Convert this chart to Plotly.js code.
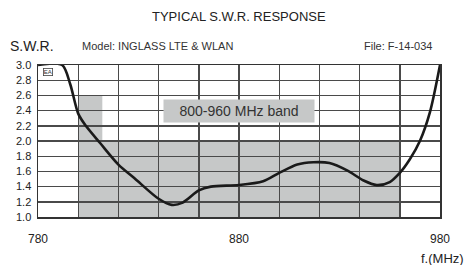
<!DOCTYPE html>
<html>
<head>
<meta charset="utf-8">
<script src="https://cdn.plot.ly/plotly-3.0.1.min.js"></script>
<style>html,body{margin:0;padding:0;background:#fff;}#chart{width:468px;height:265px;}</style>
</head>
<body>
<div id="chart"></div>
<script>
// Data
const freq = [780, 792, 796, 800, 803.5, 811, 820, 828, 840, 846.5, 852, 860, 866, 880, 892, 900, 909, 917, 925, 934, 942, 948.5, 955, 960, 965, 970, 975, 980];
const swr  = [3.0, 3.0, 2.75, 2.36, 2.21, 1.97, 1.69, 1.51, 1.24, 1.16, 1.19, 1.35, 1.40, 1.42, 1.47, 1.58, 1.69, 1.72, 1.71, 1.61, 1.48, 1.42, 1.46, 1.58, 1.76, 2.0, 2.38, 3.0];
const xGrid = [780, 800, 820, 840, 860, 880, 900, 920, 940, 960, 980];
const xLabels = ['780', '', '', '', '', '880', '', '', '', '', '980'];
const yTicks = [1.0, 1.2, 1.4, 1.6, 1.8, 2.0, 2.2, 2.4, 2.6, 2.8, 3.0];
const bandStart = 800, bandEnd = 960, bandLimit = 2.0;
const notchEnd = 812, notchLimit = 2.6;

const font = 'Liberation Sans, Arial, sans-serif';
const trace = {
  x: freq, y: swr, type: 'scatter', mode: 'lines',
  line: {color: '#1a1a1a', width: 2.6, shape: 'spline', smoothing: 0.8},
  cliponaxis: false, hoverinfo: 'skip'
};
const layout = {
  width: 468, height: 265,
  margin: {l: 38, r: 28, t: 65, b: 48},
  paper_bgcolor: '#fff', plot_bgcolor: '#fff',
  showlegend: false,
  xaxis: {
    range: [780, 980], tickmode: 'array', tickvals: xGrid, ticktext: xLabels,
    showgrid: true, gridcolor: '#4a4a4a', gridwidth: 1.4, zeroline: false,
    showline: true, mirror: true, linecolor: '#333', linewidth: 1.5,
    ticks: '', ticklabelstandoff: 10,
    tickfont: {family: font, size: 12, color: '#222'}
  },
  yaxis: {
    range: [1, 3], tickmode: 'array', tickvals: yTicks, tickformat: '.1f',
    showgrid: true, gridcolor: '#4a4a4a', gridwidth: 1.4, zeroline: false,
    showline: true, mirror: true, linecolor: '#333', linewidth: 1.5,
    ticks: '', ticklabelstandoff: 3,
    tickfont: {family: font, size: 11, color: '#222'}
  },
  shapes: [
    {type: 'rect', xref: 'x', yref: 'y', x0: bandStart, x1: bandEnd, y0: 1, y1: bandLimit,
     fillcolor: '#c6c8c8', line: {width: 0}, layer: 'below'},
    {type: 'rect', xref: 'x', yref: 'y', x0: bandStart, x1: notchEnd, y0: bandLimit, y1: notchLimit,
     fillcolor: '#c6c8c8', line: {width: 0}, layer: 'below'}
  ],
  annotations: [
    {text: 'TYPICAL S.W.R. RESPONSE', xref: 'paper', yref: 'paper', x: 0.5, y: 1, yanchor: 'middle', yshift: 49,
     showarrow: false, font: {family: font, size: 13, color: '#222'}},
    {text: 'S.W.R.', xref: 'paper', yref: 'paper', x: -0.075, xanchor: 'left', y: 1, yanchor: 'middle', yshift: 19,
     showarrow: false, font: {family: font, size: 14, color: '#222'}},
    {text: 'Model: INGLASS LTE & WLAN', xref: 'paper', yref: 'paper', x: 0.105, xanchor: 'left', y: 1, yanchor: 'middle', yshift: 19,
     showarrow: false, font: {family: font, size: 11, color: '#333'}},
    {text: 'File: F-14-034', xref: 'paper', yref: 'paper', x: 0.985, xanchor: 'right', y: 1, yanchor: 'middle', yshift: 19,
     showarrow: false, font: {family: font, size: 11, color: '#333'}},
    {text: 'f.(MHz)', xref: 'paper', yref: 'paper', x: 1.065, xanchor: 'right', y: 0, yanchor: 'middle', yshift: -41,
     showarrow: false, font: {family: font, size: 13, color: '#222'}},
    {text: '800-960 MHz band', xref: 'x', yref: 'y', x: 880, y: 2.39,
     showarrow: false, bgcolor: '#c6c8c8', width: 148, height: 20, borderpad: 1,
     font: {family: font, size: 14, color: '#333'}},
    {text: 'EA', xref: 'paper', yref: 'paper', x: 0.012, xanchor: 'left', y: 0.955, yanchor: 'middle',
     showarrow: false, bordercolor: '#444', borderwidth: 0.8, borderpad: 0,
     font: {family: font, size: 6, color: '#333'}}
  ]
};
Plotly.newPlot('chart', [trace], layout, {staticPlot: true, displayModeBar: false});
</script>
</body>
</html>
